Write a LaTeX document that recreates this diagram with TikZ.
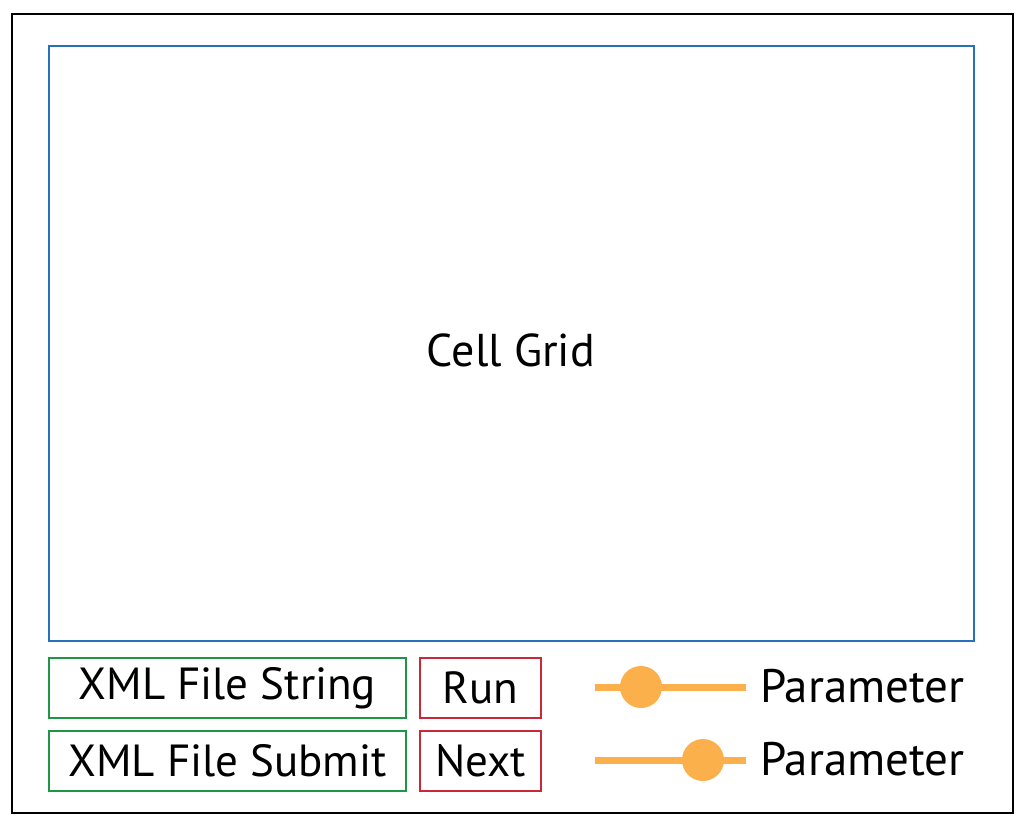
\documentclass[tikz,border=0pt]{standalone}
\usepackage{fontspec}
\setmainfont{PT Sans}
\begin{document}
\begin{tikzpicture}[x=1pt,y=-1pt,
  frame/.style={draw=black,line width=2.5pt},
  gridbox/.style={draw=gridblue,line width=2pt},
  filebox/.style={draw=boxgreen,line width=2pt,minimum width=357pt,minimum height=60pt,inner sep=0pt,font=\fontsize{45}{50}\selectfont},
  btnbox/.style={draw=btnred,line width=2pt,minimum width=121pt,minimum height=60pt,inner sep=0pt,font=\fontsize{45}{50}\selectfont},
  track/.style={draw=slider,line width=7pt},
  knob/.style={circle,fill=slider,minimum size=42pt,inner sep=0pt},
  lbl/.style={font=\fontsize{47}{52}\selectfont,inner sep=0pt,anchor=west}]
\definecolor{gridblue}{RGB}{38,112,188}
\definecolor{boxgreen}{RGB}{30,150,70}
\definecolor{btnred}{RGB}{200,40,55}
\definecolor{slider}{RGB}{251,176,75}
\useasboundingbox (0,0) rectangle (1032,828);
\node[frame,minimum width=1001pt,minimum height=799pt,inner sep=0pt] (outer) at (512.5,413.5) {};
\node[gridbox,minimum width=925pt,minimum height=595pt,inner sep=0pt,font=\fontsize{46}{52}\selectfont] (grid) at (511.5,343.5) {};
\node[font=\fontsize{46}{52}\selectfont,inner sep=0pt] (gl) at (511,350) {Cell Grid};
\node[filebox] (xs) at (227.5,688) {XML File String};
\node[filebox] (xsub) at (227.5,761) {XML File Submit};
\node[btnbox] (run) at (480.5,688) {Run};
\node[btnbox] (next) at (480.5,761) {Next};
\coordinate (t1a) at (595,687);
\coordinate (t1b) at (746,687);
\coordinate (t2a) at (595,760);
\coordinate (t2b) at (746,760);
\draw[track] (t1a) -- (t1b);
\draw[track] (t2a) -- (t2b);
\node[knob] (k1) at (641,687) {};
\node[knob] (k2) at (703,760) {};
\node[lbl] (p1) at (760,686) {Parameter};
\node[lbl] (p2) at (760,759) {Parameter};
\end{tikzpicture}
\end{document}
